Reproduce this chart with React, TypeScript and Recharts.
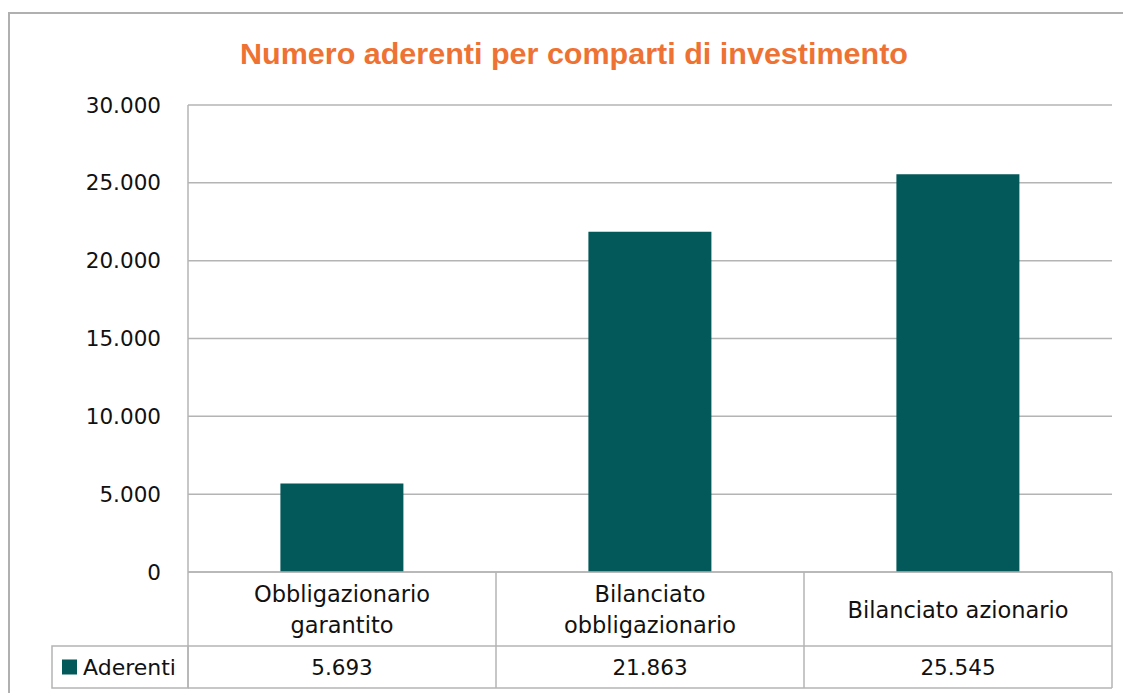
import React from 'react';
import { BarChart, Bar, XAxis, YAxis, CartesianGrid, Customized } from 'recharts';

const categories = ['Obbligazionario garantito', 'Bilanciato obbligazionario', 'Bilanciato azionario'];
const categoryLines = [['Obbligazionario', 'garantito'], ['Bilanciato', 'obbligazionario'], ['Bilanciato azionario']];
const aderenti = [5693, 21863, 25545];
const yTicks = [0, 5000, 10000, 15000, 20000, 25000, 30000];
const seriesName = 'Aderenti';
const title = 'Numero aderenti per comparti di investimento';

const data = categories.map((name, i) => ({ name, aderenti: aderenti[i] }));

const GRID = '#b4b4b4';
const BAR = '#03595a';
const TEXT = '#111111';
const FONT = '"DejaVu Sans", sans-serif';
const ROW1 = 74;
const ROW2 = 42;

const fmt = (v: number) => String(v).replace(/\B(?=(\d{3})+(?!\d))/g, '.');

function CatTick(props: any) {
  const { x, y, payload, index, width } = props;
  const n = categories.length;
  const half = (payload && payload.offset) || (width ? width / (2 * n) : 154);
  const lines = categoryLines[index] ?? [payload.value];
  const mid = y + ROW1 / 2;
  return (
    <g>
      {index === 0 && <line x1={x - half} x2={x - half} y1={y} y2={y + ROW1 + ROW2} stroke={GRID} strokeWidth={1.5} />}
      <line x1={x + half} x2={x + half} y1={y} y2={y + ROW1 + ROW2} stroke={GRID} strokeWidth={1.5} />
      <text textAnchor="middle" fontFamily={FONT} fontSize={22.5} fill={TEXT}>
        {lines.map((l: string, i: number) => (
          <tspan key={i} x={x} y={mid + (i - (lines.length - 1) / 2) * 31 + 8.5}>{l}</tspan>
        ))}
      </text>
    </g>
  );
}

function ValTick(props: any) {
  const { x, y, payload, index, width } = props;
  const n = categories.length;
  const half = (payload && payload.offset) || (width ? width / (2 * n) : 154);
  const mid = y + ROW2 / 2;
  return (
    <g>
      {index === 0 && (
        <g>
          <rect x={x - half - 136} y={y} width={136} height={ROW2} fill="none" stroke={GRID} strokeWidth={1.5} />
          <rect x={x - half - 126} y={mid - 7.5} width={15} height={15} fill={BAR} />
          <text x={x - half - 105} y={mid + 8} fontFamily={FONT} fontSize={22} fill={TEXT}>{seriesName}</text>
        </g>
      )}
      <line x1={x - half} x2={x + half} y1={y + ROW2} y2={y + ROW2} stroke={GRID} strokeWidth={1.5} />
      <text x={x} y={mid + 8} textAnchor="middle" fontFamily={FONT} fontSize={21.5} fill={TEXT}>{fmt(aderenti[index])}</text>
    </g>
  );
}

function Title() {
  return (
    <text x={574} y={64} textAnchor="middle" fontFamily='"Liberation Sans", Arial, sans-serif' fontWeight="bold" fontSize={30} fill="#ee7233" textLength={668} lengthAdjust="spacingAndGlyphs">
      {title}
    </text>
  );
}

export default function App() {
  return (
    <div style={{ width: 1123, height: 685, position: 'relative', overflow: 'hidden', background: '#fff' }}>
      <div style={{ position: 'absolute', left: 0, top: 4, width: 1200, height: 800, border: '2px solid #b0b0b0', boxSizing: 'border-box' }} />
      <div style={{ position: 'absolute', left: -8, top: -8 }}>
        <BarChart width={1131} height={693} data={data} margin={{ top: 105, right: 19, bottom: 5, left: 0 }} barCategoryGap="30%">
          <Customized component={<Title />} />
          <CartesianGrid vertical={false} stroke={GRID} strokeWidth={1.5} />
          <YAxis
            width={188}
            domain={[0, 30000]}
            ticks={yTicks}
            tickFormatter={fmt}
            tickLine={false}
            tickSize={6}
            tickMargin={21}
            axisLine={{ stroke: GRID, strokeWidth: 1.5 }}
            tick={{ fontFamily: FONT, fontSize: 21.5, fill: TEXT }}
            interval={0}
          />
          <XAxis
            xAxisId="cat"
            dataKey="name"
            height={ROW1}
            tickLine={false}
            tickSize={0}
            tickMargin={0}
            axisLine={{ stroke: GRID, strokeWidth: 1.5 }}
            tick={<CatTick />}
            interval={0}
          />
          <XAxis
            xAxisId="val"
            dataKey="name"
            height={ROW2}
            tickLine={false}
            tickSize={0}
            tickMargin={0}
            axisLine={{ stroke: GRID, strokeWidth: 1.5 }}
            tick={<ValTick />}
            interval={0}
          />
          <Bar xAxisId="cat" dataKey="aderenti" name={seriesName} fill={BAR} isAnimationActive={false} />
        </BarChart>
      </div>
    </div>
  );
}
